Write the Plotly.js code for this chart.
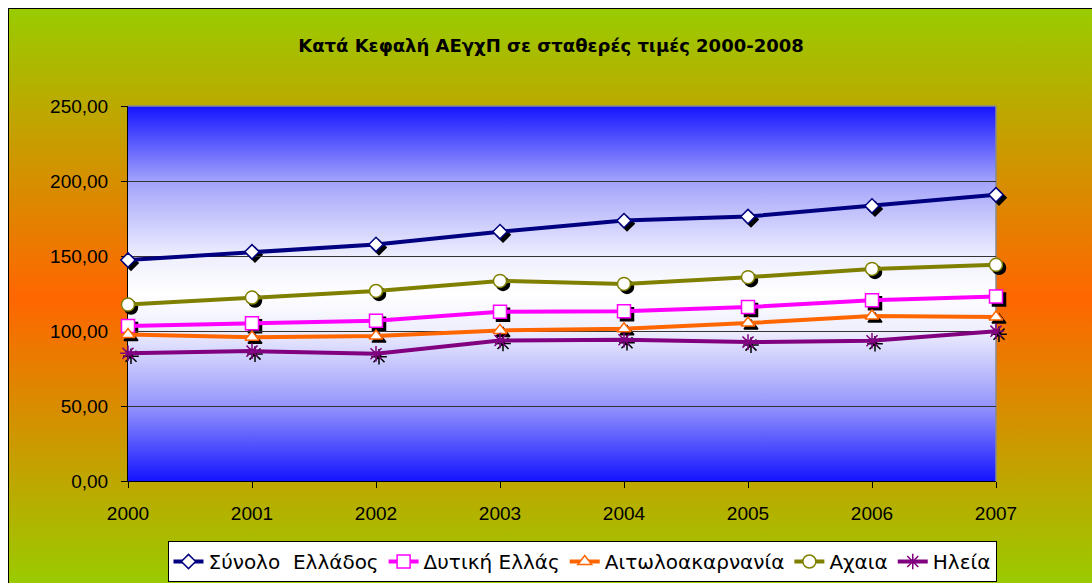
<!DOCTYPE html>
<html>
<head>
<meta charset="utf-8">
<script src="https://cdn.plot.ly/plotly-3.0.1.min.js"></script>
<style>
  html, body { margin:0; padding:0; background:#ffffff; }
  #wrap { position:relative; width:1092px; height:583px; overflow:hidden; background:#ffffff; }
  #bg { position:absolute; left:8px; top:8px; width:1100px; height:590px;
        border-left:1px solid #000; border-top:1px solid #000; box-sizing:border-box;
        background:linear-gradient(to bottom, #99cc00 0%, #ff6600 49%, #99cc00 98%); }
  #chart { position:absolute; left:0; top:0; width:1092px; height:583px; }
</style>
</head>
<body>
<div id="wrap"><div id="bg"></div><div id="chart"></div></div>
<script>
const years = ['2000','2001','2002','2003','2004','2005','2006','2007'];
const synolo = [147.3,152.8,157.7,166.2,173.6,176.3,183.4,190.8];
const dytiki = [103.3,105.1,106.9,112.9,113.1,116.0,120.5,123.0];
const aitol  = [97.7,95.9,96.6,100.4,101.5,105.3,110.0,109.3];
const achaia = [117.6,122.3,126.7,133.4,131.4,135.9,141.4,144.1];
const ileia  = [85.2,86.6,84.8,93.7,94.2,92.6,93.5,99.9];
const names = ['Σύνολο  Ελλάδος','Δυτική Ελλάς','Αιτωλοακαρνανία','Αχαια','Ηλεία'];
const yTicks = [0,50,100,150,200,250];
const yGrid = [50,100,150,200];

const series = [
  {y:synolo, name:names[0], color:'#000080', symbol:'diamond', size:11},
  {y:dytiki, name:names[1], color:'#ff00ff', symbol:'square', size:13},
  {y:aitol,  name:names[2], color:'#ff6600', symbol:'triangle-up', size:12},
  {y:achaia, name:names[3], color:'#808000', symbol:'circle', size:13},
  {y:ileia,  name:names[4], color:'#800080', symbol:'asterisk-open', size:13}
];

const traces = [];
// carrier trace for the visible axes (no visible marks)
traces.push({x: years, y: synolo, xaxis:'x', yaxis:'y', type:'scatter', mode:'markers',
  showlegend:false, hoverinfo:'skip', marker:{opacity:0, size:1}});
// shadow markers (offset subplot)
series.forEach(s => {
  traces.push({
    x: years, y: s.y, xaxis:'x2', yaxis:'y2', type:'scatter', mode:'markers',
    showlegend:false, hoverinfo:'skip', cliponaxis:false,
    marker:{symbol:s.symbol, size:s.size, color:'#000000', line:{color:'#000000', width:1.5}}
  });
});
// main series
series.forEach(s => {
  const isAst = s.symbol === 'asterisk-open';
  traces.push({
    x: years, y: s.y, xaxis:'x3', yaxis:'y3', type:'scatter', mode:'lines+markers',
    name: s.name, cliponaxis:false,
    line:{color:s.color, width:4},
    marker:{symbol:s.symbol, size:s.size, color: isAst ? s.color : '#ffffff',
            line:{color:s.color, width:1.5}}
  });
});

const L = 128, R = 93, T = 106, B = 99;
const W = 1092 - L - R, H = 583 - T - B;
const off = 3;
const mainX = [0, (W - off) / W], mainY = [off / H, 1];
const shX = [off / W, 1], shY = [0, (H - off) / H];

const tickFont = {family:'Liberation Sans, Arial, sans-serif', size:19, color:'#000000'};

const svgBg = "data:image/svg+xml;charset=utf-8," + encodeURIComponent(
  '<svg xmlns="http://www.w3.org/2000/svg" width="100" height="100" preserveAspectRatio="none">' +
  '<defs><linearGradient id="g" x1="0" y1="0" x2="0" y2="1">' +
  '<stop offset="0" stop-color="#1414ff"/><stop offset="0.2" stop-color="#a2a2fb"/>' +
  '<stop offset="0.4" stop-color="#eeeefe"/><stop offset="0.5" stop-color="#ffffff"/>' +
  '<stop offset="0.6" stop-color="#eeeefe"/><stop offset="0.8" stop-color="#9494fc"/>' +
  '<stop offset="1" stop-color="#1414ff"/></linearGradient></defs>' +
  '<rect width="100" height="100" fill="url(#g)"/></svg>');

const layout = {
  width:1092, height:583,
  margin:{l:L, r:R, t:T, b:B, pad:0},
  paper_bgcolor:'rgba(0,0,0,0)', plot_bgcolor:'rgba(0,0,0,0)',
  separators:',.',
  font:{family:'Liberation Sans, Arial, sans-serif', size:19, color:'#000000'},
  title:{text:'Κατά Κεφαλή ΑΕγχΠ σε σταθερές τιμές 2000-2008',
         font:{family:'DejaVu Sans, sans-serif', size:18, color:'#000000', weight:'bold'},
         xref:'container', x:551/1092, xanchor:'center', yref:'container', y:1-46/583, yanchor:'middle'},
  xaxis:{type:'category', range:[0,7], domain:mainX, anchor:'y', showgrid:false,
         showline:true, linecolor:'#000000', linewidth:1,
         ticks:'outside', ticklen:6, tickcolor:'#000000', tickfont:tickFont,
         ticklabelstandoff:9, fixedrange:true, zeroline:false},
  yaxis:{range:[0,250], domain:mainY, anchor:'x', tickvals:yTicks, tickformat:'.2f',
         showgrid:false,
         showline:true, linecolor:'#000000', linewidth:1,
         ticks:'outside', ticklen:6, tickcolor:'#000000', tickfont:tickFont,
         ticklabelstandoff:9, fixedrange:true, zeroline:false},
  xaxis2:{type:'category', range:[0,7], visible:false, fixedrange:true, domain:shX, anchor:'y2'},
  yaxis2:{range:[0,250], visible:false, fixedrange:true, domain:shY, anchor:'x2'},
  xaxis3:{type:'category', range:[0,7], visible:false, fixedrange:true, domain:mainX, anchor:'y3'},
  yaxis3:{range:[0,250], domain:mainY, anchor:'x3', fixedrange:true, tickvals:yGrid,
          showgrid:true, gridcolor:'#333333', gridwidth:1, showticklabels:false,
          ticks:'', showline:false, zeroline:false},
  images:[{source:svgBg, xref:'paper', yref:'paper', x:mainX[0], y:1,
           sizex:mainX[1]-mainX[0], sizey:1-mainY[0],
           xanchor:'left', yanchor:'top', sizing:'stretch', layer:'below'}],
  shapes:[
    {type:'line', xref:'paper', yref:'paper', x0:mainX[0], x1:mainX[1], y0:1, y1:1, layer:'below',
     line:{color:'#8a8a8a', width:1.5}},
    {type:'line', xref:'paper', yref:'paper', x0:mainX[1], x1:mainX[1], y0:mainY[0], y1:1, layer:'below',
     line:{color:'#8a8a8a', width:1.5}}
  ],
  showlegend:true,
  legend:{orientation:'h', xref:'container', yref:'container', x:582/1092, xanchor:'center',
          y:1/583, yanchor:'bottom', bgcolor:'#ffffff', bordercolor:'#000000', borderwidth:1,
          font:{family:'DejaVu Sans, sans-serif', size:20, color:'#000000'},
          itemclick:false, itemdoubleclick:false, tracegroupgap:0}
};

Plotly.newPlot('chart', traces, layout, {displayModeBar:false, staticPlot:true});
</script>
</body>
</html>
